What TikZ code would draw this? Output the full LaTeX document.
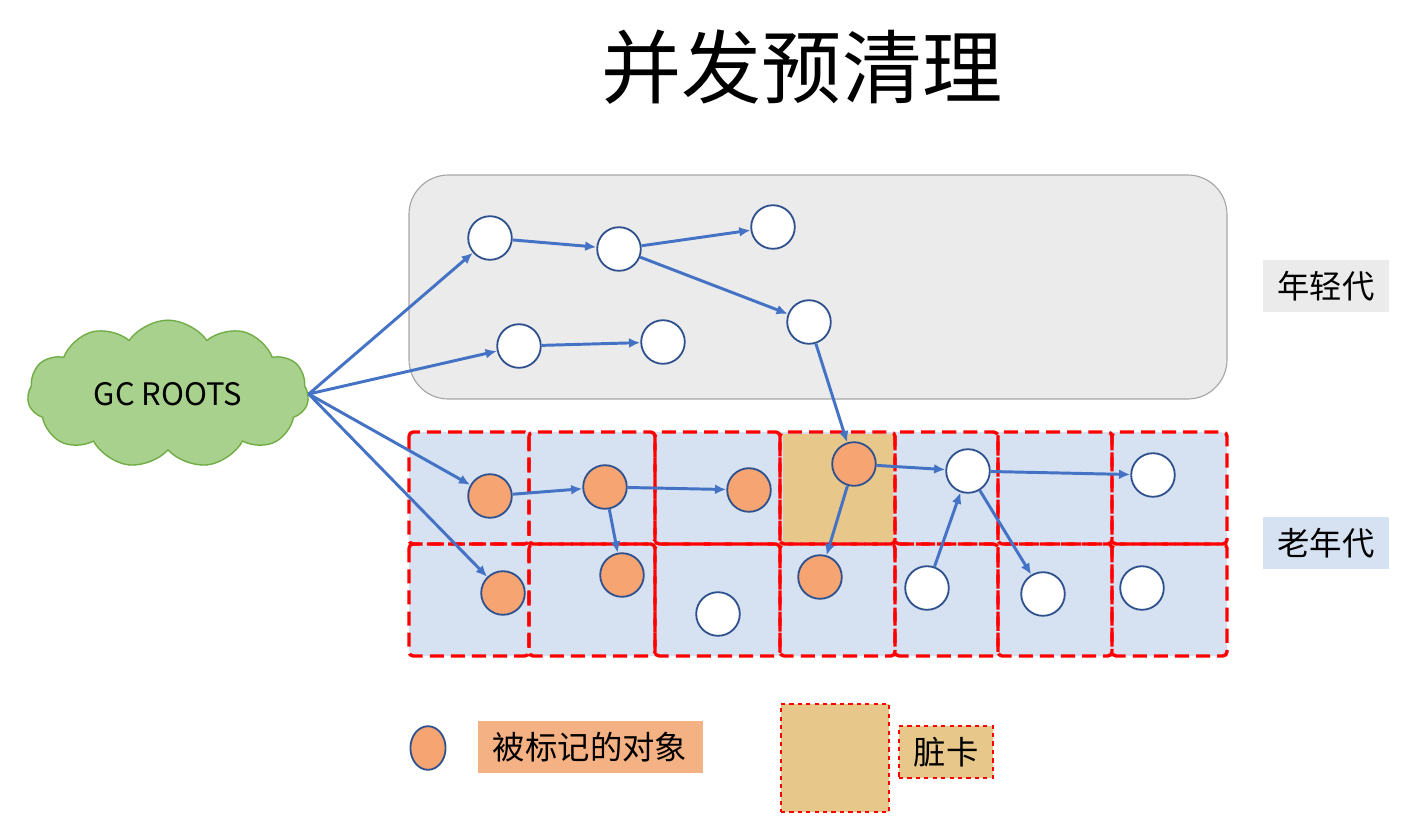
\documentclass[tikz,border=0pt]{standalone}
\usepackage{fontspec}
\setmainfont{Noto Sans CJK SC}
\usepackage{xcolor}
\usepackage{tikz}
\usetikzlibrary{arrows.meta,shapes.geometric,shapes.symbols}
\definecolor{arrowblue}{RGB}{68,114,196}
\definecolor{rimblue}{RGB}{47,82,143}
\definecolor{markorange}{RGB}{246,164,114}
\definecolor{labelorange}{RGB}{244,177,131}
\definecolor{younggray}{RGB}{235,235,235}
\definecolor{oldblue}{RGB}{214,225,242}
\definecolor{cardtan}{RGB}{232,200,138}
\definecolor{cloudgreen}{RGB}{169,209,142}
\definecolor{cloudrim}{RGB}{112,173,71}

\begin{document}
\begin{tikzpicture}[x=0.025cm, y=-0.025cm,
  obj/.style={circle, draw=rimblue, line width=1.3pt, fill=white, minimum size=31pt, inner sep=0pt},
  marked/.style={obj, fill=markorange},
  arrow/.style={-{Latex[length=8pt,width=7pt]}, draw=arrowblue, line width=2.1pt},
  cell/.style={draw=red, line width=2.4pt, dash pattern=on 10pt off 5pt, rounded corners=3pt},
  tag/.style={font=\fontsize{23}{26}\selectfont, inner sep=0pt, minimum height=37pt, minimum width=90pt}
]
\useasboundingbox (0,0) rectangle (1416,824);

\node[font=\fontsize{57}{60}\selectfont] (title) at (802,67) {并发预清理};

% generations
\draw[draw=gray!70, fill=younggray, line width=0.8pt, rounded corners=28pt] (409,175) rectangle (1227,399);
\fill[oldblue, rounded corners=4pt] (409,432) rectangle (1227,656);
\fill[cardtan] (783,434) rectangle (893,542);
\foreach \xa/\xb in {409/529, 529/655, 655/780, 780/895, 895/998, 998/1112, 1112/1227} {
  \draw[cell] (\xa,432) rectangle (\xb,544);
  \draw[cell] (\xa,544) rectangle (\xb,656);
}

\node[tag, fill=younggray] (younglabel) at (1326,286) {年轻代};
\node[tag, fill=oldblue] (oldlabel) at (1326,543) {老年代};

\node[cloud, cloud puffs=11, cloud puff arc=110, aspect=1.9, draw=cloudrim, fill=cloudgreen,
  line width=1pt, minimum width=200pt, minimum height=105pt, font=\fontsize{22}{26}\selectfont] (gc) at (168,394) {GC ROOTS};

% young objects
\node[obj] (y1) at (490,238) {};
\node[obj] (y2) at (619,249) {};
\node[obj] (y3) at (773,227) {};
\node[obj] (y4) at (809,322) {};
\node[obj] (y5) at (519,346) {};
\node[obj] (y6) at (663,342) {};

% old objects
\node[marked] (o1) at (490,496) {};
\node[marked] (o2) at (605,487) {};
\node[marked] (o3) at (749,490) {};
\node[marked] (o4) at (854,464) {};
\node[obj] (o5) at (968,471) {};
\node[obj] (o6) at (1153,475) {};
\node[marked] (o7) at (503,593) {};
\node[marked] (o8) at (622,575) {};
\node[obj] (o9) at (718,614) {};
\node[marked] (o10) at (820,577) {};
\node[obj] (o11) at (927,588) {};
\node[obj] (o12) at (1043,594) {};
\node[obj] (o13) at (1142,588) {};

\draw[arrow] (gc.east) -- (y1);
\draw[arrow] (gc.east) -- (y5);
\draw[arrow] (gc.east) -- (o1);
\draw[arrow] (gc.east) -- (o7);
\draw[arrow] (y1) -- (y2);
\draw[arrow] (y2) -- (y3);
\draw[arrow] (y2) -- (y4);
\draw[arrow] (y5) -- (y6);
\draw[arrow] (y4) -- (o4);
\draw[arrow] (o1) -- (o2);
\draw[arrow] (o2) -- (o3);
\draw[arrow] (o2) -- (o8);
\draw[arrow] (o4) -- (o10);
\draw[arrow] (o4) -- (o5);
\draw[arrow] (o5) -- (o6);
\draw[arrow] (o11) -- (o5);
\draw[arrow] (o5) -- (o12);

% legend
\node[ellipse, draw=rimblue, line width=1.3pt, fill=markorange, minimum width=25pt, minimum height=31pt, inner sep=0pt] (keyobj) at (428,748) {};
\node[tag, fill=labelorange, minimum width=160pt] (keyobjtext) at (590,747) {被标记的对象};
\node[draw=red, dashed, line width=1pt, fill=cardtan, minimum size=77pt, inner sep=0pt] (keycard) at (835,758) {};
\node[tag, draw=red, dashed, line width=1pt, fill=cardtan, minimum width=67pt] (keycardtext) at (946,752) {脏卡};
\end{tikzpicture}
\end{document}
